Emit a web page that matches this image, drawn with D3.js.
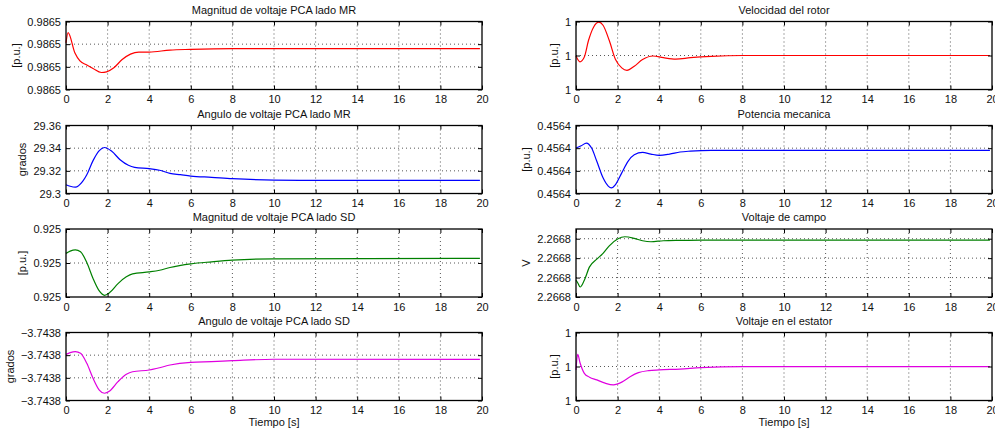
<!DOCTYPE html>
<html>
    <head>
        <meta charset="utf-8">
        <title>Respuesta dinamica</title>
        <script src="https://cdn.jsdelivr.net/npm/d3@7/dist/d3.min.js"></script>
        <style>
            body { margin: 0; background: #fff; }
            text { font-family: "Liberation Sans", Arial, Helvetica, sans-serif; fill: #111; }
        </style>
    </head>
    <body>
        <svg width="995" height="436" id="mainsvg"></svg>
        <script>
            const magMR_t = [0, 0.1, 0.43, 0.67, 1.0, 1.3, 1.7, 1.95, 2.3, 2.7, 3.1, 3.5, 4, 5, 6, 8, 10, 19.9]
            const magMR_v = [0.9865012, 0.9865102, 0.9864922, 0.9864852, 0.9864816, 0.9864786, 0.986475, 0.9864756, 0.9864792,
                0.9864864, 0.9864912, 0.986493, 0.986493, 0.9864948, 0.9864954, 0.986496, 0.986496, 0.986496]

            const angMR_t = [0, 0.2, 0.45, 0.8, 1.0, 1.3, 1.6, 1.85, 2.2, 2.6, 3.0, 3.3, 4.0, 4.5, 5.0, 5.5, 6.0, 7, 8, 10, 12, 19.9]
            const angMR_v = [29.3077, 29.3064, 29.3056, 29.3108, 29.3166, 29.329, 29.3378, 29.3406, 29.3372, 29.3298, 29.3249,
                29.3231, 29.3219, 29.3205, 29.3178, 29.3166, 29.3154, 29.3143, 29.3131, 29.3118, 29.3116, 29.3115]

            const magSD_t = [0, 0.2, 0.45, 0.7, 1.0, 1.3, 1.6, 1.85, 2.1, 2.5, 2.9, 3.2, 4.0, 4.5, 5.0, 6.0, 7, 8, 10, 19.9]
            const magSD_v = [0.9250113, 0.925014, 0.9250155, 0.9250132, 0.9250006, 0.9249818, 0.9249671, 0.924962, 0.9249652,
                0.9249758, 0.9249837, 0.9249872, 0.9249895, 0.9249915, 0.9249947, 0.924999, 0.9250014, 0.9250034, 0.9250049, 0.9250054]

            const angSD_t = [0, 0.2, 0.45, 0.7, 1.0, 1.3, 1.6, 1.85, 2.1, 2.5, 2.9, 3.2, 4.0, 4.5, 5.0, 6.0, 7, 8, 10, 19.9]
            const angSD_v = [-3.7437993, -3.7437978, -3.7437969, -3.7437984, -3.7438072, -3.7438204, -3.7438308, -3.7438336,
                -3.7438316, -3.7438234, -3.7438169, -3.7438146, -3.7438131, -3.7438111, -3.7438087, -3.7438063, -3.7438057,
                -3.7438049, -3.7438036, -3.7438038]

            const vel_t = [0, 0.19, 0.4, 0.6, 0.85, 1.1, 1.3, 1.6, 1.9, 2.2, 2.45, 2.8, 3.2, 3.7, 4.2, 4.8, 5.5, 6.5, 8, 19.9]
            const vel_v = [0.9999997, 0.9999963, 0.9999991, 1.0000088, 1.0000168, 1.0000196, 1.0000178, 1.0000088, 0.9999976,
                0.9999927, 0.9999913, 0.9999937, 0.9999976, 0.9999997, 0.9999987, 0.9999979, 0.9999987, 0.9999995, 1.0, 1.0]

            const pot_t = [0, 0.25, 0.5, 0.75, 1.0, 1.3, 1.55, 1.7, 1.9, 2.2, 2.5, 2.8, 3.2, 3.6, 4.0, 4.5, 5, 5.5, 6.5, 19.9]
            const pot_v = [0.4564201, 0.4564221, 0.4564245, 0.4564201, 0.4564084, 0.4563938, 0.4563865, 0.456385, 0.4563879,
                0.4563982, 0.4564084, 0.4564142, 0.4564163, 0.4564148, 0.4564137, 0.4564148, 0.4564166, 0.4564174, 0.4564181, 0.4564181]

            const campo_t = [0, 0.1, 0.2, 0.4, 0.65, 1.0, 1.3, 1.6, 2.0, 2.35, 2.8, 3.2, 3.6, 4.2, 5, 6, 19.9]
            const campo_v = [2.2667773, 2.2667739, 2.2667703, 2.2667773, 2.266791, 2.266799, 2.2668049, 2.2668127, 2.2668197,
                2.266822, 2.2668204, 2.2668179, 2.2668169, 2.2668179, 2.2668183, 2.2668186, 2.2668186]

            const est_t = [0, 0.08, 0.2, 0.4, 0.65, 1.0, 1.4, 1.8, 2.2, 2.6, 3.0, 3.5, 4, 5, 6, 8, 19.9]
            const est_v = [0.999998, 1.0000071, 1.0000019, 0.999996, 0.9999937, 0.9999921, 0.9999902, 0.9999892, 0.9999908,
                0.999994, 0.9999964, 0.9999976, 0.999998, 0.9999985, 0.9999993, 0.9999999, 0.9999999]

            // ejes y: dominios y marcas
            const xTicks = d3.range(0, 21, 2)
            const titles = ['Magnitud de voltaje PCA lado MR', 'Velocidad del rotor', 'Angulo de voltaje PCA lado MR', 'Potencia mecanica',
                'Magnitud de voltaje PCA lado SD', 'Voltaje de campo', 'Angulo de voltaje PCA lado SD', 'Voltaje en el estator']
            const ylabels = ['[p.u.]', '[p.u.]', 'grados', '[p.u.]', '[p.u.]', 'V', 'grados', '[p.u.]']
            const yDomains = [[0.98646, 0.98652], [0.99998, 1.00002], [29.3, 29.36], [0.45638, 0.45644],
                [0.92496, 0.92504], [2.26676, 2.26683], [-3.74384, -3.74378], [0.99998, 1.00002]]
            const yTicks = [[0.98646, 0.98648, 0.9865, 0.98652], [0.99998, 1, 1.00002], [29.3, 29.32, 29.34, 29.36],
                [0.45638, 0.4564, 0.45642, 0.45644], [0.92496, 0.925, 0.92504], [2.26676, 2.26678, 2.2668, 2.26682],
                [-3.74384, -3.74382, -3.7438, -3.74378], [0.99998, 1, 1.00002]]
            const yFormats = ['.4f', '.4~f', '.2~f', '.4f', '.4~f', '.4f', '.4f', '.4~f']
            const series = [[magMR_t, magMR_v], [vel_t, vel_v], [angMR_t, angMR_v], [pot_t, pot_v],
                [magSD_t, magSD_v], [campo_t, campo_v], [angSD_t, angSD_v], [est_t, est_v]]
            const colors = ['#ff0000', '#ff0000', '#0000ff', '#0000ff', '#008000', '#008000', '#e000e0', '#e000e0']

            const svg = d3.select('#mainsvg')
            const colX = [66, 576]
            const rowY = [21.5, 125.5, 229, 332.5]
            const w = 416
            const h = 68
            const tickLen = 4

            series.forEach((s, i) => {
                const col = i % 2
                const row = Math.floor(i / 2)
                const g = svg.append('g')
                    .attr('transform', `translate(${colX[col]}, ${rowY[row]})`)

                const x = d3.scaleLinear().domain([0, 20]).range([0, w])
                const y = d3.scaleLinear().domain(yDomains[i]).range([h, 0])
                const fmt = d3.format(yFormats[i])

                // rejilla punteada
                g.selectAll('.vgrid').data(xTicks.filter(d => d > 0 && d < 20)).join('line')
                    .attr('x1', d => x(d)).attr('x2', d => x(d))
                    .attr('y1', 0).attr('y2', h)
                    .attr('stroke', '#444').attr('stroke-width', 0.9)
                    .attr('stroke-dasharray', '1,3')
                g.selectAll('.hgrid').data(yTicks[i].filter(d => y(d) > 1 && y(d) < h - 1)).join('line')
                    .attr('x1', 0).attr('x2', w)
                    .attr('y1', d => y(d)).attr('y2', d => y(d))
                    .attr('stroke', '#444').attr('stroke-width', 0.9)
                    .attr('stroke-dasharray', '1,3')

                // curva
                const line = d3.line()
                    .x((d, k) => x(s[0][k]))
                    .y(d => y(d))
                    .curve(d3.curveMonotoneX)
                g.append('path')
                    .attr('d', line(s[1]))
                    .attr('fill', 'none')
                    .attr('stroke', colors[i])
                    .attr('stroke-width', 1.2)

                // marcas hacia adentro
                const axX = d3.axisBottom(x).tickValues(xTicks).tickSize(-tickLen).tickPadding(6).tickFormat(d3.format('d'))
                const axXTop = d3.axisTop(x).tickValues(xTicks).tickSize(-tickLen).tickFormat('')
                const axY = d3.axisLeft(y).tickValues(yTicks[i]).tickSize(-tickLen).tickPadding(5).tickFormat(fmt)
                const axYR = d3.axisRight(y).tickValues(yTicks[i]).tickSize(-tickLen).tickFormat('')

                g.append('g').attr('transform', `translate(0, ${h})`).call(axX)
                g.append('g').call(axXTop)
                const gy = g.append('g').call(axY)
                g.append('g').attr('transform', `translate(${w}, 0)`).call(axYR)
                g.selectAll('.domain').remove()
                g.selectAll('.tick line').attr('stroke', '#000').attr('stroke-width', 1)
                g.selectAll('.tick text').attr('font-size', 11).attr('font-family', '"Liberation Sans", Arial, sans-serif').attr('fill', '#111')

                // caja
                g.append('rect')
                    .attr('x', 0).attr('y', 0).attr('width', w).attr('height', h)
                    .attr('fill', 'none').attr('stroke', '#000').attr('stroke-width', 1.3)

                g.append('text')
                    .attr('x', w / 2).attr('y', -8)
                    .attr('text-anchor', 'middle')
                    .attr('font-size', 11)
                    .text(titles[i])

                let maxW = 0
                gy.selectAll('text').each(function () { maxW = Math.max(maxW, this.getBBox().width) })
                const lx = -maxW - 12
                g.append('text')
                    .attr('transform', `translate(${lx}, ${h / 2}) rotate(-90)`)
                    .attr('text-anchor', 'middle')
                    .attr('font-size', 11)
                    .text(ylabels[i])

                if (row === 3) {
                    g.append('text')
                        .attr('x', w / 2).attr('y', h + 25)
                        .attr('text-anchor', 'middle')
                        .attr('font-size', 11)
                        .text('Tiempo [s]')
                }
            })
        </script>
    </body>
</html>
